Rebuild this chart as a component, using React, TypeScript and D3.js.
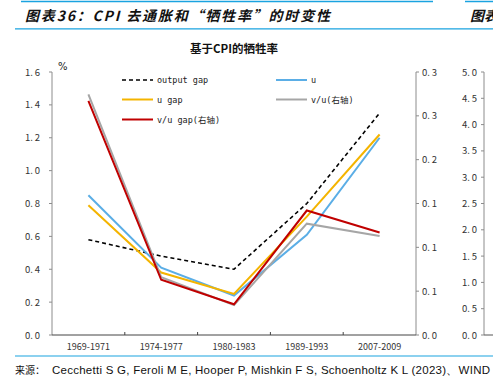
import React from "react";
import * as d3 from "d3";

const categories = ["1969-1971", "1974-1977", "1980-1983", "1989-1993", "2007-2009"];
const outputGap = [0.58, 0.48, 0.4, 0.8, 1.35];
const uVals = [0.85, 0.41, 0.24, 0.61, 1.2];
const uGap = [0.79, 0.38, 0.25, 0.72, 1.22];
const vuVals = [0.2745, 0.066, 0.034, 0.127, 0.113];
const vuGap = [0.267, 0.063, 0.035, 0.142, 0.117];
const leftTicks = [0, 0.2, 0.4, 0.6, 0.8, 1.0, 1.2, 1.4, 1.6];
const rightTicks = [0, 0.05, 0.1, 0.15, 0.2, 0.25, 0.3];
const farTicks = [0, 0.5, 1, 1.5, 2, 2.5, 3, 3.5, 4, 4.5, 5];

const W = 493, H = 386;
const top = 72, bottom = 335, left = 52, right = 416;

export default function App() {
  const x = d3.scaleBand<string>().domain(categories).range([left, right]);
  const yL = d3.scaleLinear().domain([0, 1.6]).range([bottom, top]);
  const yR = d3.scaleLinear().domain([0, 0.3]).range([bottom, top]);
  const yF = d3.scaleLinear().domain([0, 5]).range([bottom, top]);
  const cx = (c: string) => (x(c) as number) + x.bandwidth() / 2;
  const lineL = d3.line<number>().x((_, i) => cx(categories[i])).y((d) => yL(d));
  const lineR = d3.line<number>().x((_, i) => cx(categories[i])).y((d) => yR(d));
  const tickFont = "'Noto Sans CJK SC', 'DejaVu Sans', sans-serif";
  const fmt = (v: number) => v.toFixed(1).replace(".", ".\u2009");
  const series = [
    { name: "output gap", d: lineL(outputGap), color: "#000", dash: "4,3", w: 1.6 },
    { name: "u", d: lineL(uVals), color: "#5BAEE6", dash: "", w: 2 },
    { name: "u gap", d: lineL(uGap), color: "#F4B400", dash: "", w: 2 },
    { name: "v/u(右轴)", d: lineR(vuVals), color: "#A6A6A6", dash: "", w: 2 },
    { name: "v/u gap(右轴)", d: lineR(vuGap), color: "#C00000", dash: "", w: 2 },
  ];
  const legendPos = [
    [122, 80], [276, 80], [122, 99.5], [276, 99.5], [122, 119.5],
  ];
  return (
    <svg width={W} height={H} style={{ position: "absolute", left: 0, top: 0, background: "#fff" }}>
      <line x1={21} x2={433} y1={1.5} y2={1.5} stroke="#1AA3E0" strokeWidth={1.5} />
      <line x1={465} x2={493} y1={1.5} y2={1.5} stroke="#1AA3E0" strokeWidth={1.5} />
      <text x={25} y={21} fontSize={14} fontWeight="bold" fontStyle="italic" fontFamily="'Noto Sans CJK SC', sans-serif" fill="#111" textLength={305} lengthAdjust="spacing">
        图表36：CPI 去通胀和“牺牲率”的时变性
      </text>
      <text x={470} y={21} fontSize={14} fontWeight="bold" fontStyle="italic" fontFamily="'Noto Sans CJK SC', sans-serif" fill="#111">图表</text>
      <line x1={15} x2={493} y1={28.8} y2={28.8} stroke="#1AA3E0" strokeWidth={1.2} />
      <text x={234} y={53} textAnchor="middle" fontSize={11.5} fontWeight="bold" fontFamily="'Noto Sans CJK SC', serif" fill="#111">基于CPI的牺牲率</text>
      <text x={58} y={70} fontSize={10} fontFamily="'DejaVu Sans', sans-serif" fill="#222">%</text>

      {/* left axis */}
      <line x1={left} x2={left} y1={top} y2={bottom} stroke="#8C8C8C" strokeWidth={1} />
      {leftTicks.map((t) => (
        <g key={"l" + t}>
          <line x1={left - 3} x2={left} y1={yL(t)} y2={yL(t)} stroke="#8C8C8C" />
          <text x={40} y={yL(t) + 3.5} textAnchor="end" fontSize={9.5} fontFamily={tickFont} fill="#333">{fmt(t)}</text>
        </g>
      ))}
      {/* right axis */}
      <line x1={right} x2={right} y1={top} y2={bottom} stroke="#8C8C8C" strokeWidth={1} />
      {rightTicks.map((t) => (
        <g key={"r" + t}>
          <line x1={right} x2={right + 3} y1={yR(t)} y2={yR(t)} stroke="#8C8C8C" />
          <text x={422} y={yR(t) + 3.5} fontSize={9.5} fontFamily={tickFont} fill="#333">{fmt(t)}</text>
        </g>
      ))}
      {/* far right partial axis */}
      <line x1={484} x2={484} y1={top} y2={bottom} stroke="#8C8C8C" strokeWidth={1} />
      <line x1={484} x2={493} y1={bottom} y2={bottom} stroke="#555" strokeWidth={1} />
      {farTicks.map((t) => (
        <g key={"f" + t}>
          <line x1={481} x2={484} y1={yF(t)} y2={yF(t)} stroke="#8C8C8C" />
          <text x={477} y={yF(t) + 3.5} textAnchor="end" fontSize={9.5} fontFamily={tickFont} fill="#333">{fmt(t)}</text>
        </g>
      ))}
      {/* x axis */}
      <line x1={left} x2={right} y1={bottom} y2={bottom} stroke="#444" strokeWidth={1} />
      {categories.map((c, i) => (
        <g key={c}>
          {i > 0 && <line x1={x(c)} x2={x(c)} y1={bottom - 3} y2={bottom} stroke="#444" />}
          <text x={cx(c)} y={350} textAnchor="middle" fontSize={9} fontFamily={tickFont} fill="#333">{c}</text>
        </g>
      ))}

      {series.map((s) => (
        <path key={s.name} d={s.d || ""} fill="none" stroke={s.color} strokeWidth={s.w} strokeDasharray={s.dash || undefined} />
      ))}

      {series.map((s, i) => (
        <g key={"lg" + s.name}>
          <line x1={legendPos[i][0]} x2={legendPos[i][0] + 31} y1={legendPos[i][1]} y2={legendPos[i][1]} stroke={s.color} strokeWidth={s.w} strokeDasharray={s.dash || undefined} />
          <text x={legendPos[i][0] + 35} y={legendPos[i][1] + 3} fontSize={8.5} fontFamily="'DejaVu Sans Mono', 'Noto Sans CJK SC', monospace" fill="#222">{s.name}</text>
        </g>
      ))}

      <line x1={15} x2={493} y1={356} y2={356} stroke="#1AA3E0" strokeWidth={1.2} />
      <text x={15} y={374} fontFamily="'Noto Sans CJK SC', sans-serif" fontSize={10} fill="#111">来源：</text>
      <text x={52} y={374} fontSize={11.5} fontFamily="'Liberation Sans', Arial, sans-serif" fill="#111" textLength={438} lengthAdjust="spacing">
        Cecchetti S G, Feroli M E, Hooper P, Mishkin F S, Schoenholtz K L (2023)、WIND
      </text>
    </svg>
  );
}
